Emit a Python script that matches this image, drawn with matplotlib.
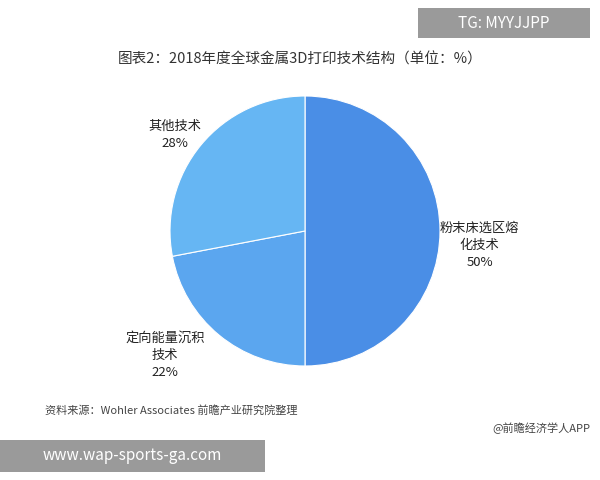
import matplotlib
matplotlib.use("Agg")
import matplotlib.pyplot as plt
from matplotlib.patches import Rectangle

plt.rcParams['font.family'] = ['Noto Sans CJK SC', 'DejaVu Sans']

labels = ['粉末床选区熔\n化技术', '定向能量沉积\n技术', '其他技术']
values = [50, 22, 28]
colors = ['#4a8ee6', '#5ba6ef', '#66b6f3']

fig = plt.figure(figsize=(6, 4.8), dpi=100)
ax = fig.add_axes([305/600 - 135/600, 1 - (231+135)/480, 270/600, 270/480])
ax.pie(values, colors=colors, startangle=90, counterclock=False,
       wedgeprops=dict(linewidth=0.8, edgecolor='white'))
ax.set_xlim(-1, 1)
ax.set_ylim(-1, 1)
ax.set_aspect('equal')

fig.text(0.5, 1 - 60/480, '图表2：2018年度全球金属3D打印技术结构（单位：%）', ha='center', va='center', fontsize=10.5, color='#333333')
fig.text(440/600, 1 - 245/480, '粉末床选区熔\n化技术\n50%', ha='left', va='center', fontsize=9.5, color='#222222', linespacing=1.4, multialignment='center')
fig.text(175/600, 1 - 135/480, '其他技术\n28%', ha='center', va='center', fontsize=9.5, color='#222222', linespacing=1.4)
fig.text(165/600, 1 - 355/480, '定向能量沉积\n技术\n22%', ha='center', va='center', fontsize=9.5, color='#222222', linespacing=1.4)

fig.text(45/600, 1 - 410/480, '资料来源：Wohler Associates 前瞻产业研究院整理', ha='left', va='center', fontsize=8, color='#444444', style='italic')
fig.text(590/600, 1 - 428/480, '@前瞻经济学人APP', ha='right', va='center', fontsize=8, color='#444444')

fig.patches.append(Rectangle((418/600, 1 - 38/480), 172/600, 30/480, transform=fig.transFigure, facecolor='#9a9a9a', edgecolor='none'))
fig.text(504/600, 1 - 23/480, 'TG: MYYJJPP', ha='center', va='center', fontsize=11, color='white')
fig.patches.append(Rectangle((0, 1 - 472/480), 265/600, 32/480, transform=fig.transFigure, facecolor='#9a9a9a', edgecolor='none'))
fig.text(132/600, 1 - 456/480, 'www.wap-sports-ga.com', ha='center', va='center', fontsize=11, color='white')

fig.savefig('out.png', dpi=100)
